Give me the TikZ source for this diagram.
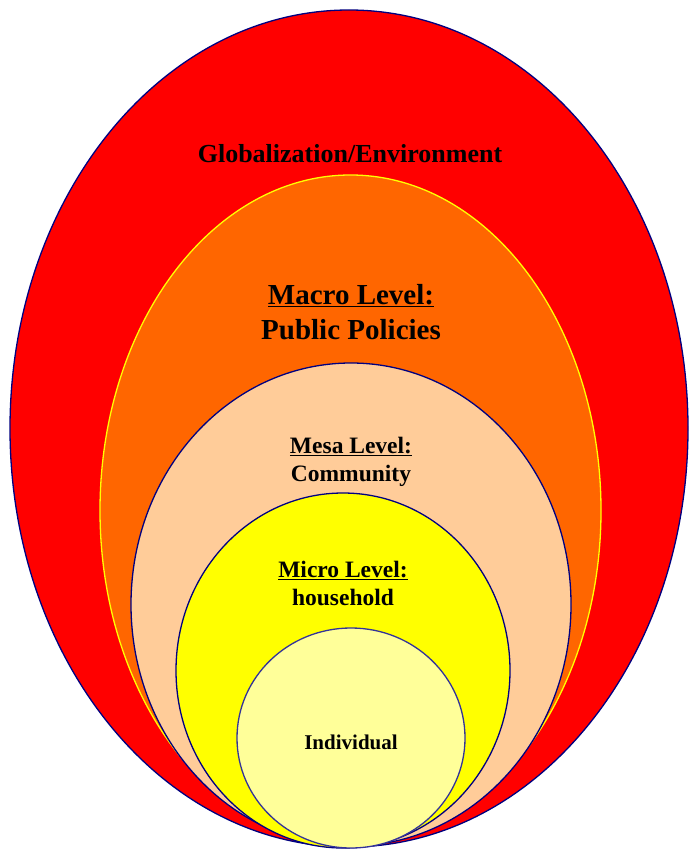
\documentclass[tikz,border=0pt]{standalone}
\usepackage{fontspec}
\setmainfont{Liberation Serif}
\usetikzlibrary{shapes.geometric, positioning}

\definecolor{navyline}{HTML}{000080}
\definecolor{globalred}{HTML}{FF0000}
\definecolor{macroorange}{HTML}{FF6600}
\definecolor{mesapeach}{HTML}{FFCC99}
\definecolor{microyellow}{HTML}{FFFF00}
\definecolor{indivyellow}{HTML}{FFFF99}
\definecolor{circleline}{HTML}{333399}

\begin{document}
\begin{tikzpicture}[x=1pt, y=-1pt]
    \tikzset{level/.style={ellipse, inner sep=0pt, line width=1.3pt}}
    \tikzset{title/.style={align=center, font=\bfseries, text=black, inner sep=0pt}}
    \useasboundingbox (0,0) rectangle (689,850);

    % Levels, outside in
    \node[level, draw=navyline, fill=globalred, minimum width=678pt, minimum height=837pt] (global) at (349, 428.5) {};
    \node[level, draw=microyellow, fill=macroorange, minimum width=501pt, minimum height=671pt] (macro) at (350.5, 510.5) {};
    \node[level, draw=navyline, fill=mesapeach, minimum width=440pt, minimum height=483pt] (mesa) at (351, 604.5) {};
    \node[level, draw=navyline, fill=microyellow, minimum width=334pt, minimum height=355pt] (micro) at (343, 670.5) {};
    \node[level, draw=circleline, fill=indivyellow, minimum width=228pt, minimum height=220pt] (indiv) at (351, 738) {};

    % Labels
    \node[title, font=\bfseries\fontsize{26}{31}\selectfont] (global text) at (350, 154) {Globalization/Environment};
    \node[title, font=\bfseries\fontsize{29}{35}\selectfont] (macro text) at (351, 312) {\underline{Macro Level:}\\Public Policies};
    \node[title, font=\bfseries\fontsize{23.5}{28}\selectfont] (mesa text) at (351, 461.5) {\underline{Mesa Level:}\\Community};
    \node[title, font=\bfseries\fontsize{23.5}{28}\selectfont] (micro text) at (343, 583.5) {\underline{Micro Level:}\\household};
    \node[title, font=\bfseries\fontsize{21}{25}\selectfont] (indiv text) at (351, 742) {Individual};
\end{tikzpicture}
\end{document}
